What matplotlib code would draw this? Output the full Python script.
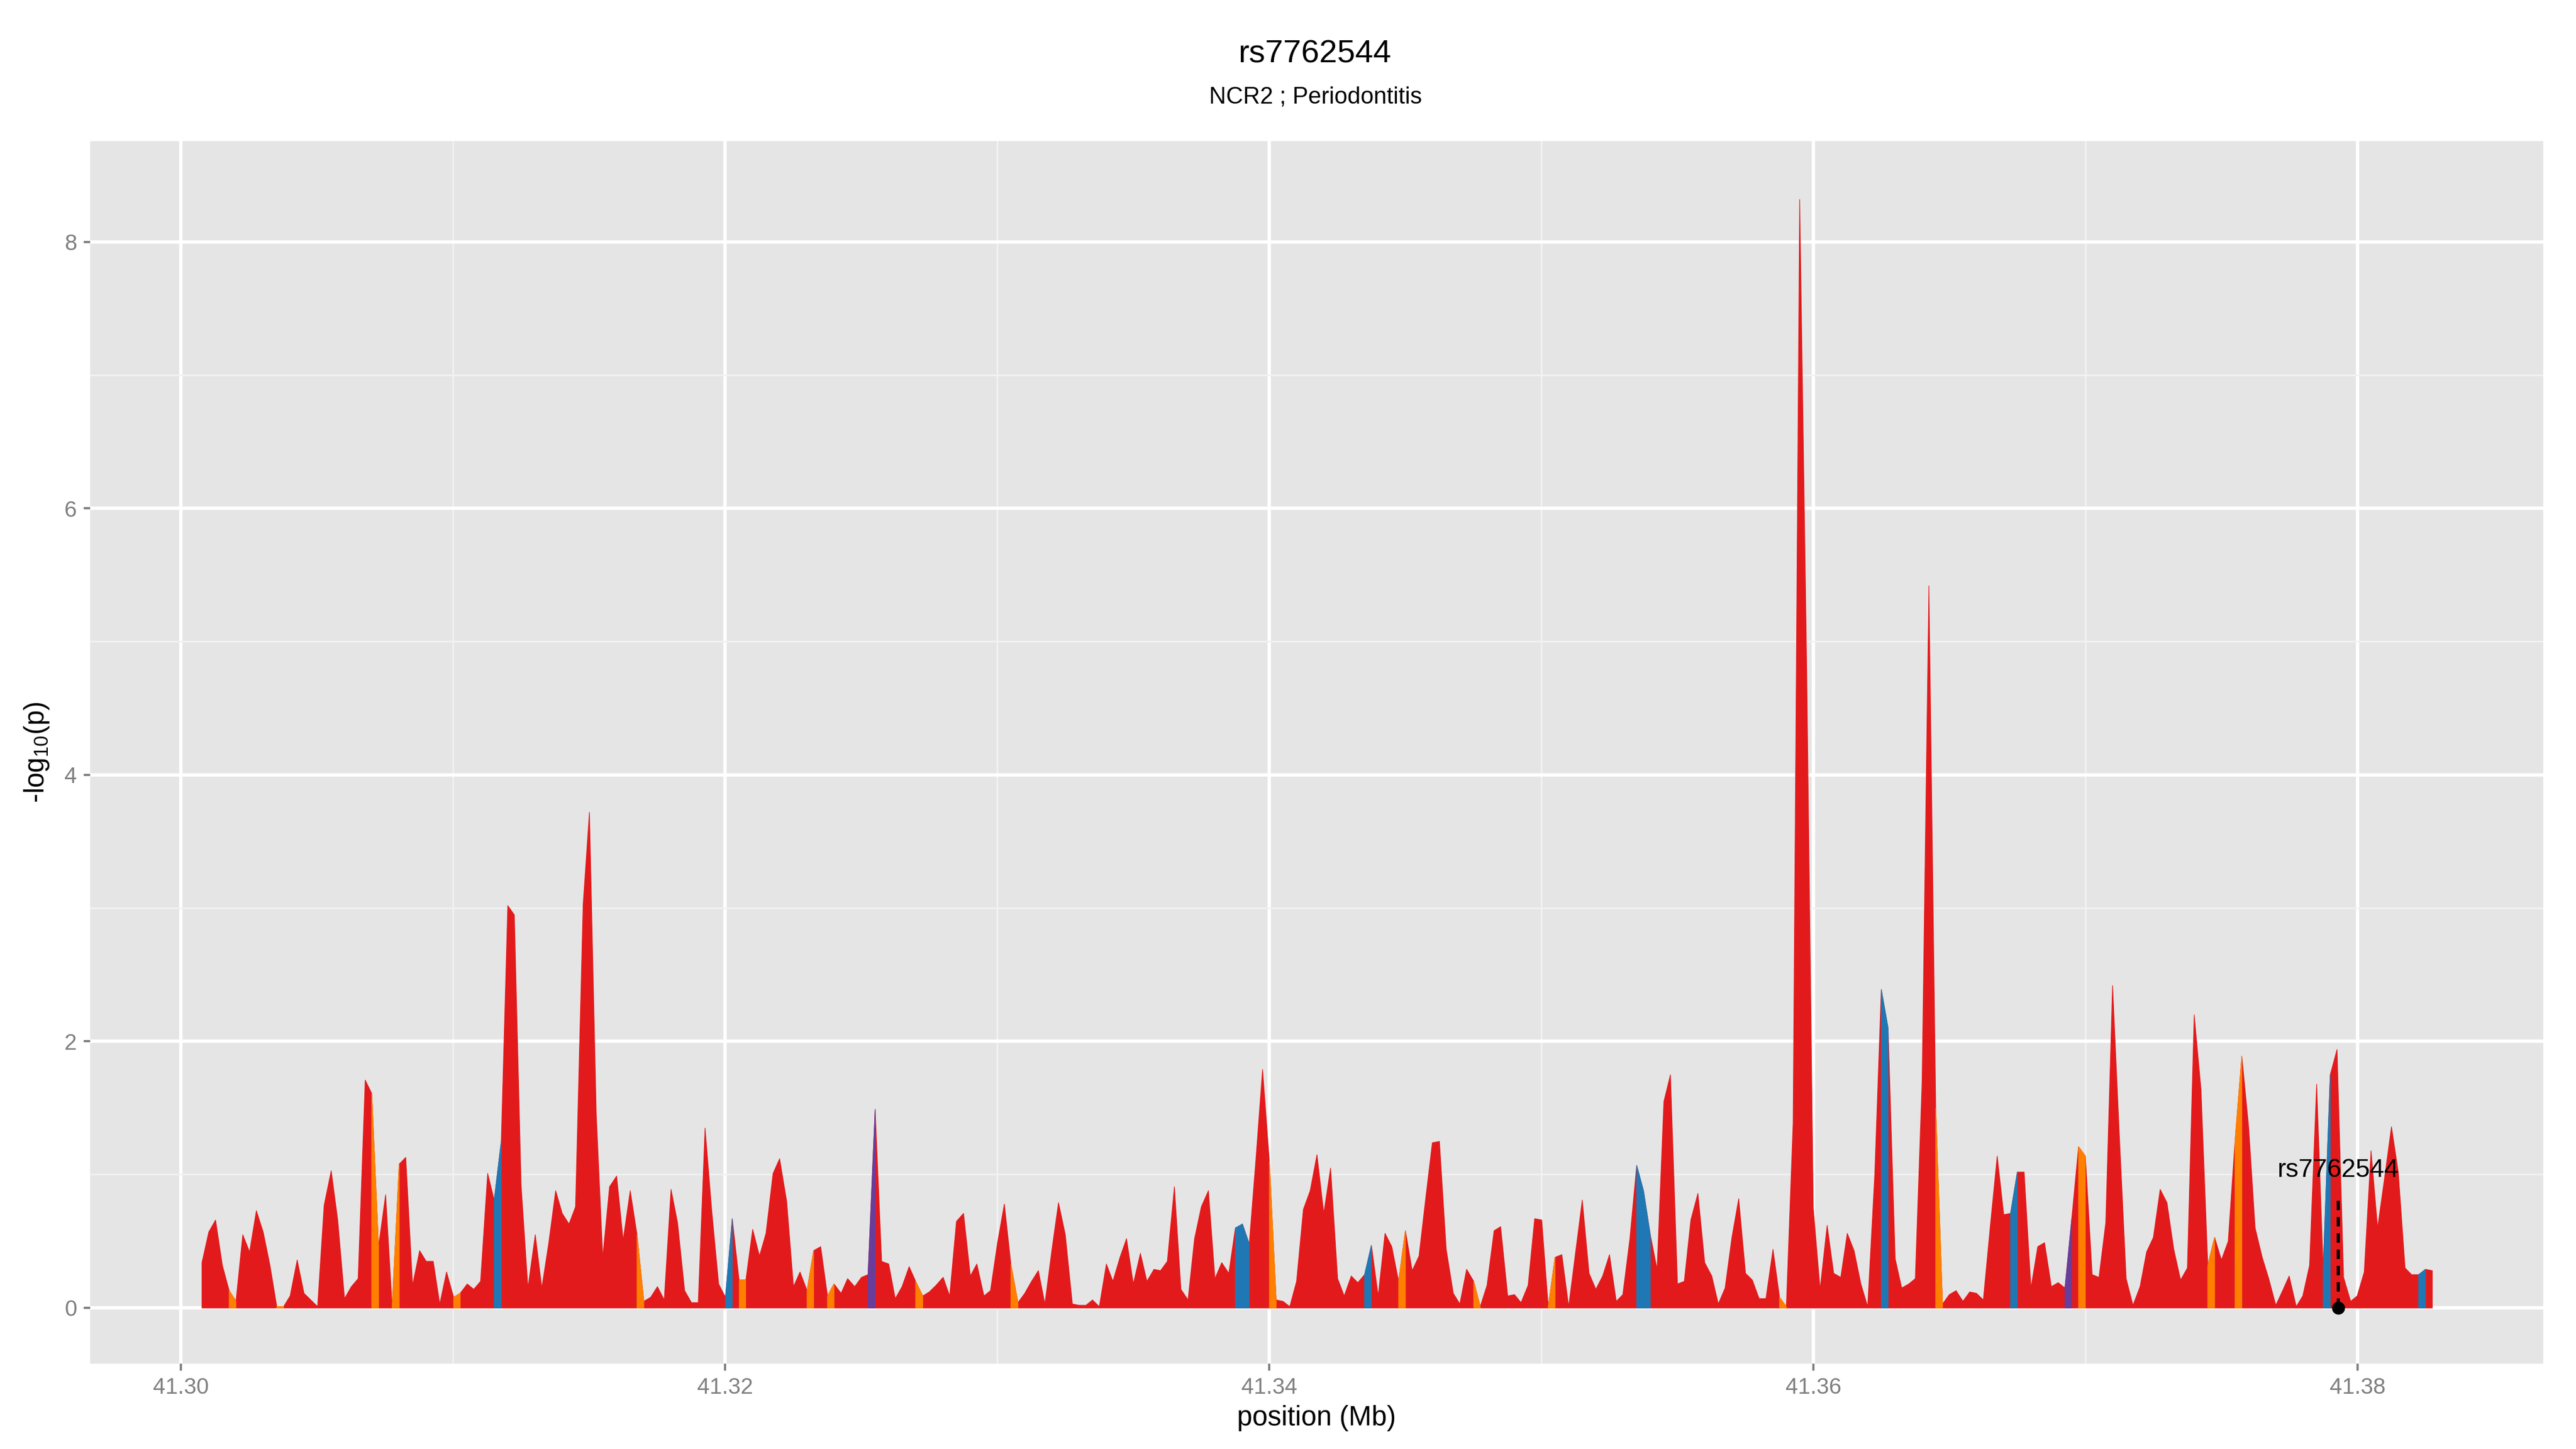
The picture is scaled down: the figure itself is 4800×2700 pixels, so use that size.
import matplotlib
matplotlib.use("Agg")
import matplotlib.pyplot as plt
from matplotlib.ticker import MultipleLocator

# ---------------- data ----------------
position_mb = [
    41.30077, 41.30102, 41.30127, 41.30152, 41.30177, 41.30202, 41.30227, 41.30252, 41.30277, 41.30302,
    41.30327, 41.30352, 41.30377, 41.30401, 41.30427, 41.30452, 41.30477, 41.30502, 41.30526, 41.30552,
    41.30576, 41.30601, 41.30626, 41.30651, 41.30677, 41.30701, 41.30726, 41.30752, 41.30776, 41.30802,
    41.30826, 41.30851, 41.30877, 41.30901, 41.30927, 41.30951, 41.30976, 41.31002, 41.31026, 41.31052,
    41.31076, 41.31101, 41.31127, 41.31151, 41.31177, 41.31201, 41.31225, 41.31250, 41.31275, 41.31302,
    41.31326, 41.31351, 41.31377, 41.31401, 41.31426, 41.31450, 41.31478, 41.31501, 41.31526, 41.31550,
    41.31575, 41.31601, 41.31625, 41.31651, 41.31676, 41.31701, 41.31726, 41.31751, 41.31776, 41.31801,
    41.31825, 41.31851, 41.31876, 41.31901, 41.31926, 41.31951, 41.31976, 41.32001, 41.32026, 41.32051,
    41.32076, 41.32101, 41.32126, 41.32150, 41.32176, 41.32200, 41.32226, 41.32251, 41.32275, 41.32301,
    41.32325, 41.32351, 41.32376, 41.32400, 41.32426, 41.32450, 41.32476, 41.32501, 41.32525, 41.32551,
    41.32575, 41.32601, 41.32625, 41.32650, 41.32676, 41.32700, 41.32726, 41.32750, 41.32775, 41.32801,
    41.32825, 41.32850, 41.32876, 41.32901, 41.32925, 41.32951, 41.32975, 41.33001, 41.33026, 41.33050,
    41.33076, 41.33101, 41.33126, 41.33151, 41.33175, 41.33201, 41.33225, 41.33250, 41.33276, 41.33300,
    41.33326, 41.33350, 41.33375, 41.33401, 41.33425, 41.33451, 41.33475, 41.33500, 41.33526, 41.33550,
    41.33576, 41.33600, 41.33625, 41.33651, 41.33675, 41.33701, 41.33725, 41.33750, 41.33776, 41.33800,
    41.33825, 41.33851, 41.33875, 41.33901, 41.33926, 41.33950, 41.33975, 41.34000, 41.34025, 41.34050,
    41.34075, 41.34100, 41.34125, 41.34150, 41.34175, 41.34200, 41.34225, 41.34251, 41.34275, 41.34301,
    41.34325, 41.34350, 41.34375, 41.34400, 41.34425, 41.34450, 41.34475, 41.34500, 41.34525, 41.34550,
    41.34575, 41.34599, 41.34625, 41.34650, 41.34676, 41.34700, 41.34725, 41.34751, 41.34775, 41.34800,
    41.34826, 41.34850, 41.34876, 41.34901, 41.34925, 41.34951, 41.34975, 41.35001, 41.35025, 41.35050,
    41.35075, 41.35100, 41.35125, 41.35150, 41.35175, 41.35200, 41.35225, 41.35250, 41.35275, 41.35299,
    41.35325, 41.35350, 41.35375, 41.35400, 41.35425, 41.35450, 41.35474, 41.35500, 41.35525, 41.35549,
    41.35575, 41.35600, 41.35626, 41.35650, 41.35675, 41.35700, 41.35725, 41.35750, 41.35775, 41.35800,
    41.35825, 41.35851, 41.35875, 41.35900, 41.35925, 41.35949, 41.35975, 41.35999, 41.36024, 41.36050,
    41.36074, 41.36100, 41.36124, 41.36149, 41.36174, 41.36199, 41.36225, 41.36249, 41.36274, 41.36300,
    41.36324, 41.36350, 41.36374, 41.36399, 41.36424, 41.36449, 41.36474, 41.36499, 41.36524, 41.36549,
    41.36574, 41.36599, 41.36624, 41.36649, 41.36675, 41.36699, 41.36724, 41.36749, 41.36774, 41.36799,
    41.36824, 41.36849, 41.36874, 41.36899, 41.36924, 41.36949, 41.36974, 41.36999, 41.37024, 41.37049,
    41.37074, 41.37099, 41.37124, 41.37149, 41.37174, 41.37200, 41.37224, 41.37249, 41.37274, 41.37299,
    41.37324, 41.37349, 41.37374, 41.37399, 41.37424, 41.37449, 41.37474, 41.37499, 41.37524, 41.37549,
    41.37574, 41.37599, 41.37623, 41.37649, 41.37673, 41.37699, 41.37724, 41.37748, 41.37774, 41.37798,
    41.37823, 41.37849, 41.37873, 41.37899, 41.37924, 41.37948, 41.37974, 41.37998, 41.38024, 41.38049,
    41.38073, 41.38099, 41.38124, 41.38149, 41.38174, 41.38198, 41.38224, 41.38249, 41.38274,
]

neg_log10_p = [
    0.34, 0.57, 0.66, 0.32, 0.13, 0.05, 0.55, 0.42, 0.73, 0.57,
    0.32, 0.01, 0.01, 0.09, 0.36, 0.11, 0.06, 0.01, 0.77, 1.03,
    0.66, 0.07, 0.16, 0.22, 1.71, 1.61, 0.46, 0.85, 0.01, 1.08,
    1.13, 0.17, 0.43, 0.35, 0.35, 0.03, 0.27, 0.08, 0.11, 0.18,
    0.14, 0.20, 1.01, 0.81, 1.25, 3.02, 2.95, 0.92, 0.15, 0.55,
    0.15, 0.48, 0.88, 0.71, 0.63, 0.76, 3.03, 3.72, 1.46, 0.38,
    0.91, 0.99, 0.51, 0.88, 0.55, 0.05, 0.08, 0.16, 0.06, 0.89,
    0.64, 0.13, 0.04, 0.04, 1.35, 0.72, 0.18, 0.08, 0.67, 0.21,
    0.21, 0.59, 0.39, 0.56, 1.01, 1.12, 0.80, 0.16, 0.27, 0.13,
    0.43, 0.46, 0.09, 0.18, 0.11, 0.22, 0.16, 0.23, 0.25, 1.49,
    0.35, 0.33, 0.07, 0.16, 0.31, 0.20, 0.09, 0.12, 0.17, 0.23,
    0.09, 0.65, 0.71, 0.24, 0.33, 0.09, 0.13, 0.49, 0.78, 0.33,
    0.04, 0.11, 0.20, 0.28, 0.03, 0.44, 0.79, 0.55, 0.03, 0.02,
    0.02, 0.06, 0.01, 0.33, 0.20, 0.38, 0.52, 0.18, 0.41, 0.20,
    0.29, 0.28, 0.35, 0.91, 0.14, 0.06, 0.52, 0.76, 0.88, 0.22,
    0.34, 0.26, 0.60, 0.63, 0.48, 1.10, 1.79, 1.10, 0.06, 0.05,
    0.01, 0.20, 0.74, 0.88, 1.15, 0.71, 1.05, 0.22, 0.09, 0.24,
    0.19, 0.25, 0.47, 0.09, 0.56, 0.46, 0.20, 0.58, 0.28, 0.39,
    0.83, 1.24, 1.25, 0.44, 0.11, 0.03, 0.29, 0.20, 0.01, 0.17,
    0.58, 0.61, 0.09, 0.10, 0.04, 0.17, 0.67, 0.66, 0.01, 0.38,
    0.40, 0.01, 0.41, 0.81, 0.26, 0.14, 0.24, 0.40, 0.05, 0.10,
    0.52, 1.07, 0.88, 0.55, 0.29, 1.55, 1.75, 0.18, 0.20, 0.66,
    0.86, 0.34, 0.24, 0.03, 0.15, 0.53, 0.82, 0.26, 0.21, 0.07,
    0.07, 0.44, 0.08, 0.01, 1.39, 8.32, 4.76, 0.75, 0.14, 0.62,
    0.26, 0.23, 0.56, 0.43, 0.18, 0.01, 1.00, 2.39, 2.10, 0.37,
    0.15, 0.18, 0.22, 1.70, 5.42, 1.50, 0.03, 0.10, 0.13, 0.05,
    0.12, 0.11, 0.06, 0.60, 1.14, 0.70, 0.71, 1.02, 1.02, 0.15,
    0.46, 0.49, 0.16, 0.19, 0.15, 0.67, 1.21, 1.14, 0.25, 0.23,
    0.64, 2.42, 1.29, 0.22, 0.02, 0.16, 0.42, 0.53, 0.89, 0.79,
    0.44, 0.21, 0.30, 2.20, 1.64, 0.32, 0.53, 0.36, 0.50, 1.25,
    1.89, 1.36, 0.60, 0.38, 0.22, 0.02, 0.13, 0.24, 0.01, 0.09,
    0.32, 1.68, 0.30, 1.75, 1.94, 0.23, 0.05, 0.09, 0.27, 1.18,
    0.60, 0.98, 1.36, 1.02, 0.30, 0.25, 0.25, 0.29, 0.28,
]

# LD class of the interval starting at each SNP (r = red, o = orange, b = blue, p = purple)
ld_class = list(
    "rrrrorrrrr" "rorrrrrrrr" "rrrrrorror" "rrrrrrrorr"
    "rrrbrrrrrr" "rrrrrrrrrr" "rrrrorrrrr" "rrrrrrrbro"
    "rrrrrrrrro" "rrorrrrrpr" "rrrrrorrrr" "rrrrrrrrro"
    "rrrrrrrrrr" "rrrrrrrrrr" "rrrrrrrrrr" "rrbbrrrorr"
    "rrrrrrrrrr" "rbrrrrorrr" "rrrrrrrorr" "rrrrrrrror"
    "rrrrrrrrrr" "rbbrrrrrrr" "rrrrrrrrrr" "rrorrrrrrr"
    "rrrrrrrbrr" "rrrrrorrrr" "rrrrrrbrrr" "rrrrprorrr"
    "rrrrrrrrrr" "rrrrrorrro" "rrrrrrrrrr" "rrbrrrrrrr"
    "rrrrrrbrr"
)

ld_colors = {"r": "#E31A1C", "o": "#FF7F00", "b": "#1F78B4", "p": "#6A3D9A"}

index_snp = "rs7762544"
index_pos = 41.37929
title = "rs7762544"
subtitle = "NCR2 ; Periodontitis"

# ---------------- plot ----------------
plt.rcParams["font.family"] = ["Liberation Sans", "DejaVu Sans"]
plt.rcParams["mathtext.fontset"] = "custom"
plt.rcParams["mathtext.rm"] = "Liberation Sans"
plt.rcParams["mathtext.it"] = "Liberation Sans"

fig = plt.figure(figsize=(16, 9), dpi=300)
ax = fig.add_axes([0.0351, 0.059, 0.9521, 0.8435])
ax.set_facecolor("#E5E5E5")

# base area in red
ax.fill_between(position_mb, 0, neg_log10_p, color=ld_colors["r"], linewidth=0.3,
                edgecolor=ld_colors["r"], zorder=2)
# coloured intervals
for i in range(len(position_mb) - 1):
    c = ld_class[i]
    if c != "r":
        ax.fill_between(position_mb[i:i + 2], 0, neg_log10_p[i:i + 2],
                        color=ld_colors[c], linewidth=0.3, edgecolor=ld_colors[c], zorder=3)

# index SNP
ax.plot([index_pos, index_pos], [0, 0.84], color="black", linestyle=(0, (3, 2.2)),
        linewidth=1.4, zorder=4)
ax.plot([index_pos], [0], marker="o", color="black", markersize=4.8, zorder=5)
ax.text(index_pos, 1.03, index_snp, ha="center", va="center", fontsize=11.5, color="black", zorder=6)

ax.set_xlim(41.29668, 41.38682)
ax.set_ylim(-0.419, 8.755)
ax.xaxis.set_major_locator(MultipleLocator(0.02))
ax.xaxis.set_minor_locator(MultipleLocator(0.01))
ax.yaxis.set_major_locator(MultipleLocator(2))
ax.yaxis.set_minor_locator(MultipleLocator(1))
ax.set_xticklabels([]) if False else None
ax.xaxis.set_major_formatter(matplotlib.ticker.FormatStrFormatter("%.2f"))
ax.yaxis.set_major_formatter(matplotlib.ticker.FormatStrFormatter("%d"))

ax.grid(which="major", color="white", linewidth=1.5, zorder=0)
ax.grid(which="minor", color="#F2F2F2", linewidth=0.7, zorder=0)
ax.set_axisbelow(True)
for s in ax.spines.values():
    s.set_visible(False)
ax.tick_params(which="major", length=3, width=1.0, color="#7F7F7F", labelcolor="#7F7F7F",
               labelsize=10, pad=3)
ax.tick_params(which="minor", length=0)

ax.set_xlabel("position (Mb)", fontsize=12.3, color="black", labelpad=3)
ax.set_ylabel(r"-log$_{\mathrm{10}}$(p)", fontsize=12.3, color="black", labelpad=6)

fig.text(0.5106, 0.9626, title, ha="center", va="center", fontsize=14.5, color="black")
fig.text(0.5106, 0.933, subtitle, ha="center", va="center", fontsize=10.5, color="black")

fig.savefig("out.png", dpi=300, facecolor="white")
